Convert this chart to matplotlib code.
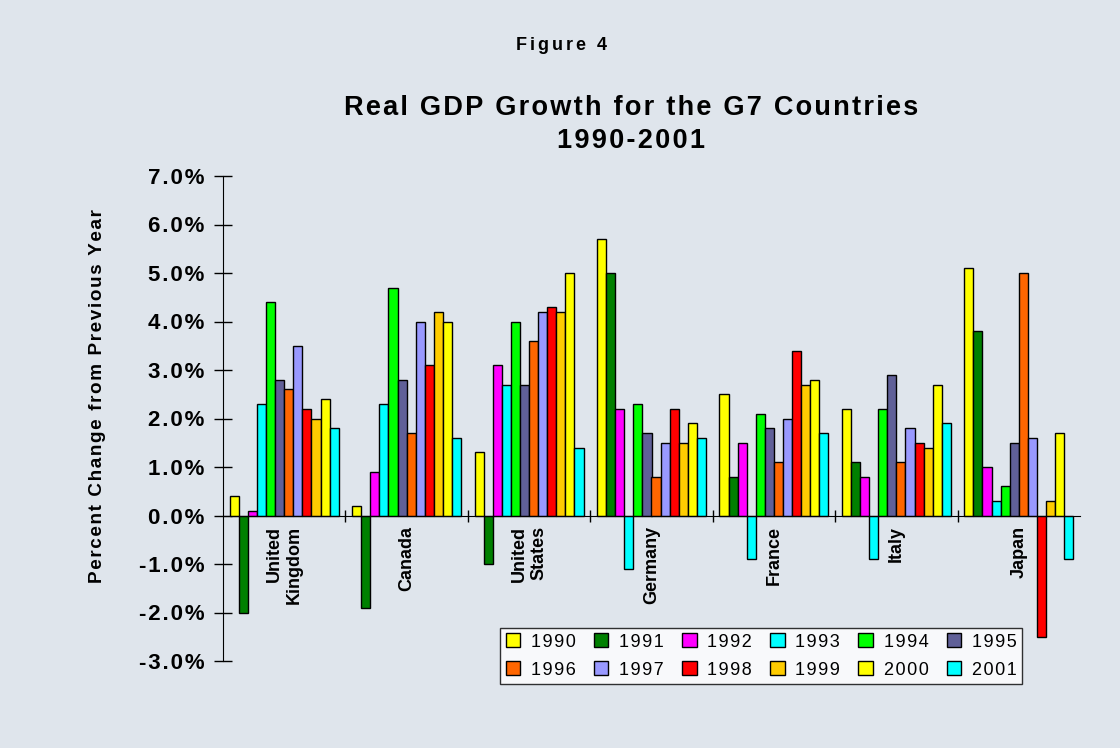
import matplotlib

matplotlib.use("Agg")

import matplotlib.pyplot as plt
import numpy as np
from matplotlib.patches import Patch

plt.rcParams["font.family"] = ["Liberation Sans", "DejaVu Sans"]

countries = ["United\nKingdom", "Canada", "United\nStates", "Germany", "France", "Italy", "Japan"]
years = ["1990", "1991", "1992", "1993", "1994", "1995", "1996", "1997", "1998", "1999", "2000", "2001"]

# growth in percent, one list per country, 1990..2001
uk = [0.4, -2.0, 0.1, 2.3, 4.4, 2.8, 2.6, 3.5, 2.2, 2.0, 2.4, 1.8]
canada = [0.2, -1.9, 0.9, 2.3, 4.7, 2.8, 1.7, 4.0, 3.1, 4.2, 4.0, 1.6]
us = [1.3, -1.0, 3.1, 2.7, 4.0, 2.7, 3.6, 4.2, 4.3, 4.2, 5.0, 1.4]
germany = [5.7, 5.0, 2.2, -1.1, 2.3, 1.7, 0.8, 1.5, 2.2, 1.5, 1.9, 1.6]
france = [2.5, 0.8, 1.5, -0.9, 2.1, 1.8, 1.1, 2.0, 3.4, 2.7, 2.8, 1.7]
italy = [2.2, 1.1, 0.8, -0.9, 2.2, 2.9, 1.1, 1.8, 1.5, 1.4, 2.7, 1.9]
japan = [5.1, 3.8, 1.0, 0.3, 0.6, 1.5, 5.0, 1.6, -2.5, 0.3, 1.7, -0.9]

year_colors = ["#ffff00", "#008000", "#ff00ff", "#00ffff", "#00ff00", "#606098",
               "#ff6600", "#9999ff", "#ff0000", "#ffcc00", "#ffff00", "#00ffff"]
y_ticks = [-3, -2, -1, 0, 1, 2, 3, 4, 5, 6, 7]

bg = "#dfe5ec"
data = np.array([uk, canada, us, germany, france, italy, japan])


def spaced(text, n=1):
    # the original uses loose letter spacing; fake it with hair spaces
    gap = "\u200a" * n
    return "\n".join(gap.join(line) for line in text.split("\n"))


fig = plt.figure(figsize=(11.2, 7.48), dpi=100, facecolor=bg)
ax = fig.add_axes([223 / 1120, 1 - 661 / 748, 857 / 1120, 485 / 748])
ax.set_facecolor(bg)

n_years = len(years)
bar_w = 0.0742
start = (1 - n_years * bar_w) / 2
groups = np.arange(len(countries))
for j in range(n_years):
    x = groups + start + (j + 0.5) * bar_w
    ax.bar(x, data[:, j], width=bar_w, color=year_colors[j], edgecolor="black", linewidth=1.0, zorder=3)

ax.set_xlim(0, len(countries))
ax.set_ylim(-3, 7)
ax.set_yticks(y_ticks)
ax.set_yticklabels([spaced(f"{v:.1f}%") for v in y_ticks], fontsize=16, fontweight="bold")
ax.tick_params(axis="y", direction="inout", length=13, width=1, pad=7)

ax.set_xticks(range(1, len(countries)))
ax.set_xticklabels([])
ax.tick_params(axis="x", direction="inout", length=9, width=1)

for s in ["top", "right"]:
    ax.spines[s].set_visible(False)
ax.spines["bottom"].set_position(("data", 0))
ax.spines["bottom"].set_zorder(4)

for i, name in enumerate(countries):
    ax.text(i + 0.5, -0.22, name, rotation=90, ha="center", va="top", multialignment="right",
            fontsize=13, fontweight="bold")

fig.text(561 / 1120, 1 - 45 / 748, spaced("Figure 4", 2), ha="center", va="center", fontsize=13, fontweight="bold")
fig.text(631 / 1120, 1 - 108 / 748, spaced("Real GDP Growth for the G7 Countries"), ha="center", va="center",
         fontsize=19.5, fontweight="bold")
fig.text(631 / 1120, 1 - 141 / 748, spaced("1990-2001"), ha="center", va="center", fontsize=19.5, fontweight="bold")
fig.text(98 / 1120, 1 - 396 / 748, spaced("Percent Change from Previous Year"), rotation=90, ha="center",
         va="center", fontsize=13.6, fontweight="bold")

handles = [Patch(facecolor=c, edgecolor="black", linewidth=1.0) for c in year_colors]
order = [r * 6 + c for c in range(6) for r in range(2)]
leg = fig.legend([handles[k] for k in order], [spaced(years[k]) for k in order], ncol=6,
                 loc="lower right", bbox_to_anchor=(1022 / 1120, 1 - 684 / 748),
                 fontsize=13, frameon=True, fancybox=False, edgecolor="black",
                 handlelength=0.8, handleheight=0.8, handletextpad=0.6, columnspacing=1.0,
                 labelspacing=0.6, borderpad=0.3, borderaxespad=0)
leg.get_frame().set_linewidth(1.0)
leg.get_frame().set_facecolor("white")

fig.savefig("out.png", dpi=100, facecolor=bg)
